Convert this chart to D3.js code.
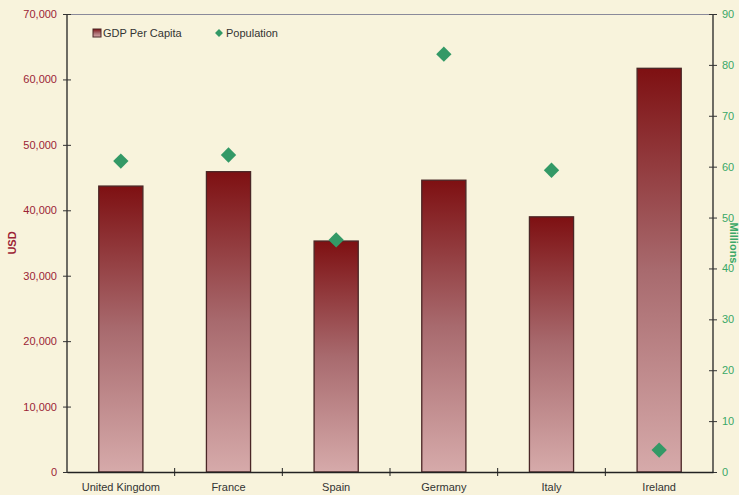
<!DOCTYPE html>
<html><head><meta charset="utf-8">
<script src="https://cdn.jsdelivr.net/npm/d3@7"></script>
<style>body{margin:0;background:#f8f3dc;}svg{display:block;font-family:"Liberation Sans",Arial,sans-serif;}</style>
</head><body><svg id="c" width="739" height="495"></svg>
<script>
const categories = ["United Kingdom","France","Spain","Germany","Italy","Ireland"];
const gdpPerCapita = [43700, 45900, 35300, 44600, 39000, 61700];
const population = [61.1, 62.3, 45.6, 82.1, 59.3, 4.3];
const leftTicks = [0,10000,20000,30000,40000,50000,60000,70000];
const rightTicks = [0,10,20,30,40,50,60,70,80,90];

const svg = d3.select("#c");
const W=739,H=495, m={l:67,r:26,t:14,b:23};
const x0=m.l, x1=W-m.r, y0=H-m.b, y1=m.t;
svg.append("rect").attr("width",W).attr("height",H).attr("fill","#f8f3dc");
const x = d3.scaleBand().domain(categories).range([x0,x1]);
const yL = d3.scaleLinear().domain([0,70000]).range([y0,y1]);
const yR = d3.scaleLinear().domain([0,90]).range([y0,y1]);

const defs = svg.append("defs");
const g = defs.append("linearGradient").attr("id","bg").attr("x1",0).attr("y1",0).attr("x2",0).attr("y2",1);
g.append("stop").attr("offset","0%").attr("stop-color","#7e1012");
g.append("stop").attr("offset","50%").attr("stop-color","#a86a6e");
g.append("stop").attr("offset","100%").attr("stop-color","#d6aaaa");

svg.append("line").attr("x1",x0).attr("x2",x1).attr("y1",y1+0.5).attr("y2",y1+0.5).attr("stroke","#8a8a9a").attr("stroke-width",1);

const bw = x.bandwidth()*0.41;
svg.selectAll("rect.bar").data(categories).enter().append("rect").attr("class","bar")
 .attr("x",d=>x(d)+x.bandwidth()/2-bw/2).attr("width",bw)
 .attr("y",(d,i)=>yL(gdpPerCapita[i])).attr("height",(d,i)=>y0-yL(gdpPerCapita[i]))
 .attr("fill","url(#bg)").attr("stroke","#4a2626").attr("stroke-width",1.3);

const axL = svg.append("g").attr("transform",`translate(${x0},0)`).call(d3.axisLeft(yL).tickValues(leftTicks).tickFormat(d3.format(",")).tickSize(4).tickPadding(6));
axL.selectAll(".tick line").attr("x1",4).attr("x2",-4);
axL.selectAll("text").attr("fill","#9b2335").style("font-size","11px");
const axR = svg.append("g").attr("transform",`translate(${x1},0)`).call(d3.axisRight(yR).tickValues(rightTicks).tickSize(4).tickPadding(5));
axR.selectAll(".tick line").attr("x1",-4).attr("x2",4);
axR.selectAll("text").attr("fill","#3aa867").style("font-size","11px");
const axB = svg.append("g").attr("transform",`translate(0,${y0})`).call(d3.axisBottom(x).tickSize(0).tickPadding(11));
axB.selectAll("text").attr("fill","#333").style("font-size","11px");
svg.selectAll("line.bt").data(categories.slice(1)).enter().append("line").attr("class","bt")
 .attr("x1",d=>x(d)).attr("x2",d=>x(d)).attr("y1",y0-4).attr("y2",y0+4).attr("stroke","#222");
[axL,axR,axB].forEach(a=>{a.selectAll(".domain").attr("stroke","#222").attr("stroke-width",1.3);a.selectAll(".tick line").attr("stroke","#333");});
axL.select(".domain").attr("d",`M0,${y0}V${y1}`);
axR.select(".domain").attr("d",`M0,${y0}V${y1}`);

const sym = d3.symbol().type(d3.symbolDiamond2).size(150);
svg.selectAll("path.pt").data(categories).enter().append("path").attr("class","pt")
 .attr("d",sym).attr("transform",(d,i)=>`translate(${x(d)+x.bandwidth()/2},${yR(population[i])})`)
 .attr("fill","#339966");

svg.append("text").attr("transform",`translate(16,${(y0+y1)/2}) rotate(-90)`).attr("text-anchor","middle")
 .attr("fill","#9b2335").style("font-size","11px").style("font-weight","bold").text("USD");
svg.append("text").attr("transform",`translate(730,${(y0+y1)/2}) rotate(90)`).attr("text-anchor","middle")
 .attr("fill","#3aa867").style("font-size","11px").style("font-weight","bold").text("Millions");

const lg = svg.append("g");
lg.append("rect").attr("x",93).attr("y",29).attr("width",8).attr("height",8).attr("fill","url(#bg)").attr("stroke","#4a2626");
lg.append("text").attr("x",103).attr("y",37).attr("fill","#333").style("font-size","11px").text("GDP Per Capita");
lg.append("path").attr("d",d3.symbol().type(d3.symbolDiamond2).size(40)).attr("transform","translate(219,33)").attr("fill","#339966");
lg.append("text").attr("x",226).attr("y",37).attr("fill","#333").style("font-size","11px").text("Population");
</script></body></html>
